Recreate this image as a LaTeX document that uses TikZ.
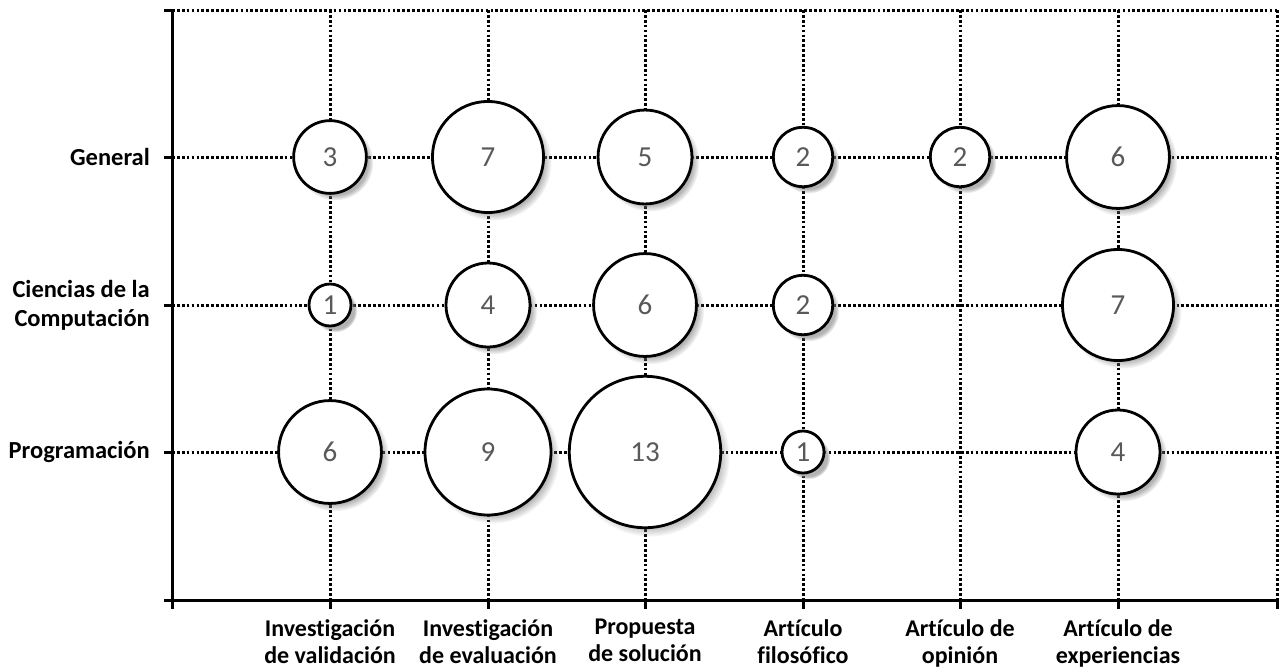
\documentclass[tikz,border=0pt]{standalone}
\usepackage{fontspec}
\setmainfont[RawFeature={-liga;-clig;-dlig}]{Carlito}
\usetikzlibrary{shadows}
\definecolor{numgray}{HTML}{595959}
\tikzset{
  axisline/.style={line width=3pt},
  gridline/.style={line width=3pt, dash pattern=on 2.7pt off 2.2pt},
  bubble/.style={circle, draw=black, fill=white, line width=2.8pt, inner sep=0pt,
    text=numgray, font=\fontsize{29}{34}\selectfont,
    circular drop shadow={shadow xshift=5pt, shadow yshift=-5pt, shadow scale=1.05, opacity=0.6}},
  rowlabel/.style={anchor=east, align=right, font=\bfseries\fontsize{24.5}{29}\selectfont, inner sep=0pt},
  collabel/.style={anchor=north, align=center, font=\bfseries\fontsize{24}{27}\selectfont, inner sep=0pt},
}
\begin{document}
\begin{tikzpicture}[x=1pt,y=-1pt]
\useasboundingbox (0,0) rectangle (1281,670);
% origin and corners
\coordinate (O) at (172,600);
\coordinate (T) at (172,10);
\coordinate (R) at (1277,600);
\coordinate (TR) at (1277,10);
% grid (dotted)
\foreach \x [count=\i] in {330,488,645,803,960,1118} {
  \coordinate (cb\i) at (\x,600);
  \coordinate (ct\i) at (\x,10);
  \draw[gridline] (ct\i) -- (cb\i);
}
\draw[gridline] (TR) -- (R);
\foreach \y [count=\j] in {157,305,452} {
  \coordinate (rl\j) at (172,\y);
  \coordinate (rr\j) at (1277,\y);
  \draw[gridline] (rl\j) -- (rr\j);
}
\draw[gridline] (T) -- (TR);
% axes
\draw[axisline] (T) -- (O) -- (R);
\foreach \y in {10,157,305,452,600} \draw[axisline] (164,\y) -- (172,\y);
\foreach \x in {172,330,488,645,803,960,1118,1277} \draw[axisline] (\x,600) -- (\x,609);
% bubbles
\foreach \x/\y/\n/\nm in {
  330/157/3/g1, 488/157/7/g2, 645/157/5/g3, 803/157/2/g4, 960/157/2/g5, 1118/157/6/g6,
  330/305/1/c1, 488/305/4/c2, 645/305/6/c3, 803/305/2/c4, 1118/305/7/c6,
  330/452/6/p1, 488/452/9/p2, 645/452/13/p3, 803/452/1/p4, 1118/452/4/p6} {
  \node[bubble, minimum size={42*sqrt(\n)}] (\nm) at (\x,\y) {\n};
}
% row labels
\node[rowlabel] (lg) at (150,157) {General};
\node[rowlabel] (lc) at (150,305) {Ciencias de la\\Computación};
\node[rowlabel] (lp) at (150,452) {Programación};
% column labels
\node[collabel] (x1) at (330,619) {Investigación\\de validación};
\node[collabel] (x2) at (488,619) {Investigación\\de evaluación};
\node[collabel] (x3) at (645,619) {Propuesta\\de solución};
\node[collabel] (x4) at (803,619) {Artículo\\filosófico};
\node[collabel] (x5) at (960,619) {Artículo de\\opinión};
\node[collabel] (x6) at (1118,619) {Artículo de\\experiencias};
\end{tikzpicture}
\end{document}
